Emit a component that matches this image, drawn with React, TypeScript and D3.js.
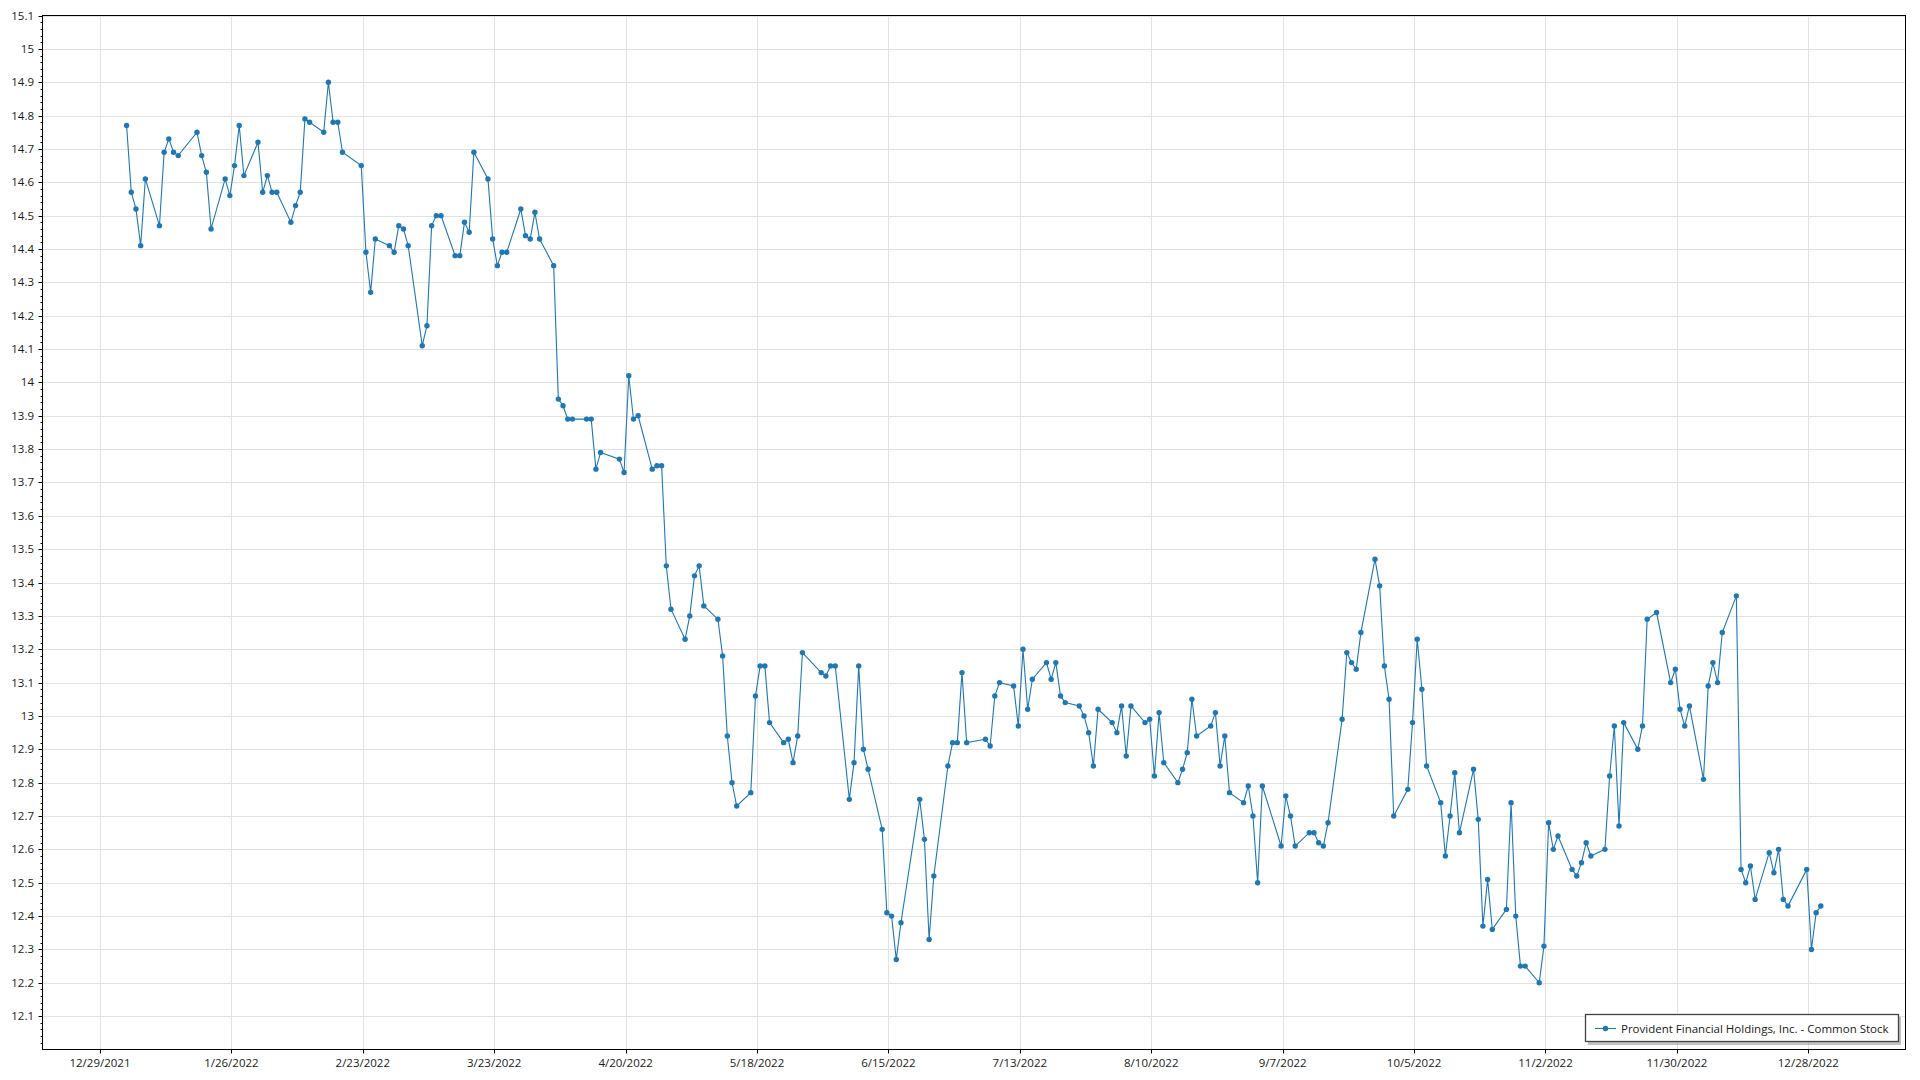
import React from 'react';
import * as d3 from 'd3';

// closing prices per month, one value per trading day
const jan = [14.77, 14.57, 14.52, 14.41, 14.61, 14.47, 14.69, 14.73, 14.69, 14.68, 14.75, 14.68, 14.63, 14.46, 14.61, 14.56, 14.65, 14.77, 14.62, 14.72];
const feb = [14.57, 14.62, 14.57, 14.57, 14.48, 14.53, 14.57, 14.79, 14.78, 14.75, 14.9, 14.78, 14.78, 14.69, 14.65, 14.39, 14.27, 14.43, 14.41];
const mar = [14.39, 14.47, 14.46, 14.41, 14.11, 14.17, 14.47, 14.5, 14.5, 14.38, 14.38, 14.48, 14.45, 14.69, 14.61, 14.43, 14.35, 14.39, 14.39, 14.52, 14.44, 14.43, 14.51];
const apr = [14.43, 14.35, 13.95, 13.93, 13.89, 13.89, 13.89, 13.89, 13.74, 13.79, 13.77, 13.73, 14.02, 13.89, 13.9, 13.74, 13.75, 13.75, 13.45, 13.32];
const may = [13.23, 13.3, 13.42, 13.45, 13.33, 13.29, 13.18, 12.94, 12.8, 12.73, 12.77, 13.06, 13.15, 13.15, 12.98, 12.92, 12.93, 12.86, 12.94, 13.19, 13.13];
const jun = [13.12, 13.15, 13.15, 12.75, 12.86, 13.15, 12.9, 12.84, 12.66, 12.41, 12.4, 12.27, 12.38, 12.75, 12.63, 12.33, 12.52, 12.85, 12.92, 12.92, 13.13];
const jul = [12.92, 12.93, 12.91, 13.06, 13.1, 13.09, 12.97, 13.2, 13.02, 13.11, 13.16, 13.11, 13.16, 13.06, 13.04, 13.03, 13.0, 12.95, 12.85, 13.02];
const aug = [12.98, 12.95, 13.03, 12.88, 13.03, 12.98, 12.99, 12.82, 13.01, 12.86, 12.8, 12.84, 12.89, 13.05, 12.94, 12.97, 13.01, 12.85, 12.94, 12.77, 12.74, 12.79, 12.7];
const sep = [12.5, 12.79, 12.61, 12.76, 12.7, 12.61, 12.65, 12.65, 12.62, 12.61, 12.68, 12.99, 13.19, 13.16, 13.14, 13.25, 13.47, 13.39, 13.15, 13.05, 12.7];
const oct = [12.78, 12.98, 13.23, 13.08, 12.85, 12.74, 12.58, 12.7, 12.83, 12.65, 12.84, 12.69, 12.37, 12.51, 12.36, 12.42, 12.74, 12.4, 12.25, 12.25, 12.2];
const nov = [12.31, 12.68, 12.6, 12.64, 12.54, 12.52, 12.56, 12.62, 12.58, 12.6, 12.82, 12.97, 12.67, 12.98, 12.9, 12.97, 13.29, 13.31, 13.1, 13.14, 13.02];
const dec = [12.97, 13.03, 12.81, 13.09, 13.16, 13.1, 13.25, 13.36, 12.54, 12.5, 12.55, 12.45, 12.59, 12.53, 12.6, 12.45, 12.43, 12.54, 12.3, 12.41, 12.43];

// market holidays in 2022 (no trading)
const holidays = ['2022-01-17', '2022-02-21', '2022-04-15', '2022-05-30', '2022-06-20', '2022-07-04', '2022-09-05', '2022-11-24', '2022-12-26'];

const seriesName = 'Provident Financial Holdings, Inc. - Common Stock';
const yMin = 12.0;
const yMax = 15.1;
const axisStart = new Date(2021, 11, 16, 18);
const axisEnd = new Date(2023, 0, 17, 17);
const firstTick = new Date(2021, 11, 29);
const tickCount = 14; // one every 4 weeks

const fmtDay = d3.timeFormat('%Y-%m-%d');
const fmtTick = (d: Date) => `${d.getMonth() + 1}/${d.getDate()}/${d.getFullYear()}`;

const closes = [...jan, ...feb, ...mar, ...apr, ...may, ...jun, ...jul, ...aug, ...sep, ...oct, ...nov, ...dec];

// trading days: weekdays of 2022 minus holidays, stamped at market close
const tradingDays = d3.timeDay
  .range(new Date(2022, 0, 1), new Date(2023, 0, 1))
  .filter(d => d.getDay() !== 0 && d.getDay() !== 6 && !holidays.includes(fmtDay(d)))
  .map(d => d3.timeHour.offset(d, 16));

const data = tradingDays.slice(0, closes.length).map((date, i) => ({ date, close: closes[i] }));

const left = 42.5, right = 1905.5, top = 15.5, bottom = 1049.5;
const blue = '#1f77b4';
const font = '"Segoe UI", "Open Sans", sans-serif';

export default function App() {
  const x = d3.scaleTime().domain([axisStart, axisEnd]).range([left, right]);
  const y = d3.scaleLinear().domain([yMin, yMax]).range([bottom, top]);

  const line = d3.line<{ date: Date; close: number }>()
    .x(d => x(d.date))
    .y(d => y(d.close));

  const xTicks = d3.range(tickCount).map(i => d3.timeDay.offset(firstTick, 28 * i));
  const yTicks = d3.range(1, 32).map(i => Math.round((yMin + i * 0.1) * 10) / 10);
  const yMinor = d3.range(0, 156).filter(i => i % 5 !== 0).map(i => yMin + i * 0.02);

  return (
    <svg width={1920} height={1080} style={{ position: 'absolute', left: 0, top: 0, background: '#fff' }}>
      {/* grid */}
      <g stroke="#e2e2e2" strokeWidth={1}>
        {xTicks.map((t, i) => (
          <line key={'gx' + i} x1={Math.round(x(t)) + 0.5} x2={Math.round(x(t)) + 0.5} y1={top} y2={bottom} />
        ))}
        {yTicks.map((v, i) => (
          <line key={'gy' + i} x1={left} x2={right} y1={Math.round(y(v)) + 0.5} y2={Math.round(y(v)) + 0.5} />
        ))}
      </g>

      {/* series */}
      <path d={line(data) || ''} fill="none" stroke={blue} strokeWidth={1.1} />
      <g fill={blue}>
        {data.map((d, i) => (
          <circle key={i} cx={x(d.date)} cy={y(d.close)} r={2.7} />
        ))}
      </g>

      {/* frame */}
      <rect x={left} y={top} width={right - left} height={bottom - top} fill="none" stroke="#000" strokeWidth={1} />

      {/* axes ticks */}
      <g stroke="#000" strokeWidth={1}>
        {yTicks.map((v, i) => (
          <line key={'ty' + i} x1={left - 4} x2={left} y1={Math.round(y(v)) + 0.5} y2={Math.round(y(v)) + 0.5} />
        ))}
        {yMinor.map((v, i) => (
          <line key={'my' + i} x1={left - 2} x2={left} y1={Math.round(y(v)) + 0.5} y2={Math.round(y(v)) + 0.5} />
        ))}
        {xTicks.map((t, i) => (
          <line key={'tx' + i} x1={Math.round(x(t)) + 0.5} x2={Math.round(x(t)) + 0.5} y1={bottom} y2={bottom + 4} />
        ))}
      </g>
      <g fontFamily={font} fontSize={11.5} fill="#1a1a1a">
        {yTicks.map((v, i) => (
          <text key={'ly' + i} x={34} y={y(v)} dy="0.35em" textAnchor="end">{String(v)}</text>
        ))}
        {xTicks.map((t, i) => (
          <text key={'lx' + i} x={x(t)} y={1067} textAnchor="middle">{fmtTick(t)}</text>
        ))}
      </g>

      {/* legend */}
      <g>
        <rect x={1588} y={1017} width={313} height={28} fill="#9a9a9a" opacity={0.6} />
        <rect x={1585.5} y={1014.5} width={313} height={27} fill="#fff" stroke="#444" strokeWidth={1.3} />
        <line x1={1595} x2={1616} y1={1028.5} y2={1028.5} stroke={blue} strokeWidth={1.1} />
        <circle cx={1605.5} cy={1028.5} r={2.7} fill={blue} />
        <text x={1621} y={1028.5} dy="0.35em" fontFamily={font} fontSize={11.5} fill="#1a1a1a">{seriesName}</text>
      </g>
    </svg>
  );
}
